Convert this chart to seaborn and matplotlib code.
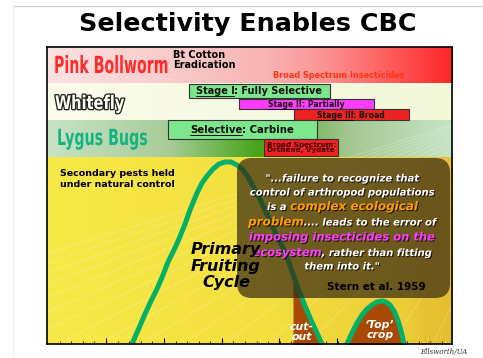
import numpy as np
import matplotlib
matplotlib.use("Agg")
import matplotlib.pyplot as plt
import matplotlib.patheffects as pe
from matplotlib.colors import LinearSegmentedColormap
from matplotlib.patches import FancyBboxPatch
from matplotlib.lines import Line2D
from matplotlib.text import Text
from matplotlib.transforms import Affine2D, Bbox
import seaborn as sns

sns.set_theme(style="white")
plt.rcParams['font.family'] = ['DejaVu Sans']

# ---------------- data (slide pixel units) ----------------
band_names = ["Pink Bollworm", "Whitefly", "Lygus Bugs"]
band_top = [47, 83, 120]
band_bottom = [83, 120, 157]

stage_labels = ["Stage I: Fully Selective", "Stage II: Partially", "Stage III: Broad",
                "Selective: Carbine", "Broad Spectrum:\nOrthene, Vydate"]
stage_start = [189, 239, 294, 168, 264]
stage_end = [330, 374, 409, 317, 338]
stage_top = [84, 99, 109, 120, 139]
stage_bottom = [98, 109, 120, 139, 156]
stage_colors = ["#7ee68c", "#ff3cff", "#ee2222", "#7ee68c", "#ee2222"]

# fruiting curve (green line)
curve_x = [118, 125, 132, 139, 145, 151, 157, 163, 168, 174, 179, 185, 190, 197, 202, 207,
           213, 219, 225, 231, 237, 243, 248, 253, 259, 265, 271, 277, 283, 287, 293, 299,
           305, 311, 317, 322, 328, 334, 340, 347, 352, 357, 362, 367, 372, 377, 382, 386,
           390, 394, 397, 400, 402, 404, 407]
curve_y = [368, 355, 344, 328, 314, 301, 289, 275, 262, 250, 239, 224, 210, 193, 183, 176,
           169, 164, 162, 162, 165, 170, 177, 186, 197, 210, 223, 236, 248, 257, 274, 291,
           306, 320, 333, 344, 358, 366, 358, 344, 333, 323, 315, 309, 305, 302, 301, 302,
           305, 311, 318, 327, 335, 344, 358]
cutout_range = (293, 328)
topcrop_range = (340, 407)

# ---------------- figure ----------------
W, H = 483, 358
X0, X1, Y0, Y1 = 47, 452, 47, 344
fig = plt.figure(figsize=(W / 100, H / 100), dpi=100)
fig.patch.set_facecolor("white")
ax = fig.add_axes([X0 / W, 1 - Y1 / H, (X1 - X0) / W, (Y1 - Y0) / H])


class Squeeze(pe.AbstractPathEffect):
    """draw text narrower (condensed look), optional outline"""
    def __init__(self, sx, stroke=None, lw=0):
        super().__init__()
        self.sx, self.stroke, self.lw = sx, stroke, lw

    def draw_path(self, renderer, gc, tpath, affine, rgbFace=None):
        aff = Affine2D().scale(self.sx, 1) + affine
        if self.stroke:
            gc0 = renderer.new_gc()
            gc0.copy_properties(gc)
            gc0.set_foreground(self.stroke)
            gc0.set_linewidth(self.lw)
            renderer.draw_path(gc0, tpath, aff, rgbFace)
            gc0.restore()
        renderer.draw_path(gc, tpath, aff, rgbFace)


class NarrowText(Text):
    # left-anchored text drawn condensed; extent reports the drawn width
    def __init__(self, x, y, s, sx=1.0, stroke=None, lw=0, **kw):
        super().__init__(x, y, s, ha="left", **kw)
        self._sx = sx
        self.set_path_effects([Squeeze(sx, stroke, lw)])

    def get_window_extent(self, renderer=None, dpi=None):
        bb = super().get_window_extent(renderer, dpi)
        return Bbox.from_extents(bb.x0, bb.y0, bb.x0 + bb.width * self._sx, bb.y1)


def narrow_text(x, y, s, **kw):
    t = NarrowText(x, y, s, **kw)
    ax._add_text(t)
    return t


def hgrad(stops, top, bottom, z=0):
    cmap = LinearSegmentedColormap.from_list("g", stops)
    grad = np.linspace(0, 1, 256)[None, :]
    ax.imshow(grad, cmap=cmap, aspect="auto", extent=(X0, X1, bottom, top),
              interpolation="bicubic", zorder=z)


hgrad([(0, "#fde2e2"), (0.3, "#f9cccc"), (0.55, "#f8b2b2"), (0.7, "#fc8e8e"), (1, "#ff2626")],
      band_top[0], band_bottom[0])
hgrad([(0, "#fbfcec"), (1, "#f2f8d8")], band_top[1], band_bottom[1])
hgrad([(0, "#c8e2c6"), (0.3, "#a8cc98"), (0.52, "#46a418"), (0.75, "#a6c894"), (1, "#c6e4c6")],
      band_top[2], band_bottom[2])
hgrad([(0, "#f7ea48"), (0.55, "#f3df40"), (0.9, "#eccc36"), (0.93, "#e8c232"), (1, "#e6bf30")],
      band_bottom[2], Y1)

# faint rays in yellow area
ox, oy = 560, 90
for tx in np.linspace(-250, 430, 17):
    ax.plot([ox, tx], [oy, Y1 + 5], color="white", lw=0.6, alpha=0.25, zorder=1)

# bars
for lab, s, e, t, b, c in zip(stage_labels, stage_start, stage_end, stage_top, stage_bottom, stage_colors):
    ax.barh((t + b) / 2, e - s, left=s, height=b - t, color=c, edgecolor="#333333",
            linewidth=0.8, zorder=3)

# brown fills under curve
cx = np.array(curve_x)
cy = np.array(curve_y)
for lo, hi in (cutout_range, topcrop_range):
    m = (cx >= lo) & (cx <= hi)
    ax.fill_between(cx[m], cy[m], Y1 + 20, color="#a84a06", lw=0, zorder=2)

sns.lineplot(x=curve_x, y=curve_y, ax=ax, color="#02b067", lw=3.6, zorder=4,
             solid_joinstyle="round", solid_capstyle="round")

# quote box
box = FancyBboxPatch((237, 158), 213, 140, boxstyle="round,pad=0,rounding_size=15",
                     facecolor=(54 / 255, 39 / 255, 17 / 255), alpha=0.7, lw=0, zorder=5)
ax.add_patch(box)

ax.set_xlim(X0, X1)
ax.set_ylim(Y1, Y0)
ax.set_yticks([])
ax.set_xticks(np.arange(105.7, X1, 57.9))
ax.set_xticks(np.arange(59.7, X1, 11.58), minor=True)
ax.tick_params(axis="x", which="major", direction="in", length=4, width=0.8, color="black",
               labelbottom=False, bottom=True)
ax.tick_params(axis="x", which="minor", direction="in", length=2, width=0.6, color="black",
               bottom=True)
for sp in ax.spines.values():
    sp.set_color("black")
    sp.set_linewidth(1.2)
    sp.set_zorder(10)

renderer = fig.canvas.get_renderer()
shadow = [pe.SimplePatchShadow(offset=(0.8, -0.8), shadow_rgbFace="black", alpha=0.7), pe.Normal()]


def seg_line(xc, y, segs, ha="center", z=8):
    items = []
    for s, kw in segs:
        kw = dict(kw)
        ul = kw.pop("underline", False)
        t = ax.text(0, y, s, ha="left", va="baseline", zorder=z, **kw)
        items.append((t, t.get_window_extent(renderer).width, ul))
    total = sum(w for _, w, _ in items)
    cur = xc - total / 2 if ha == "center" else xc
    for t, w, ul in items:
        t.set_x(cur)
        if ul:
            ax.plot([cur, cur + w], [y + 1.5, y + 1.5], color=t.get_color(), lw=0.7, zorder=z)
        cur += w


# band labels
narrow_text(54, 73, band_names[0], sx=0.6, weight="bold", fontsize=17, color="#ff2a2a",
            va="baseline", zorder=6)
narrow_text(55, 109, band_names[1], sx=0.78, stroke="#222222", lw=1.9, weight="bold",
            fontsize=13.5, color="#fffff2", va="baseline", zorder=6)
narrow_text(57, 145, band_names[2], sx=0.64, weight="bold", fontsize=16, color="#14b482",
            va="baseline", zorder=6)
ax.text(173, 60, "Bt Cotton\nEradication", weight="bold", fontsize=7, color="black",
        va="center", ha="left", linespacing=1.0, zorder=6)
ax.text(273, 75, "Broad Spectrum Insecticides", weight="bold", fontsize=5.9, color="#ff3410",
        va="center", ha="left", zorder=6)

# bar labels
dk = dict(weight="bold", color="#111111")
seg_line(259, 94.5, [("Stage I", dict(fontsize=7, underline=True, **dk)),
                     (": Fully Selective", dict(fontsize=7, **dk))])
seg_line(306, 107, [("Stage II", dict(fontsize=5.6, underline=True, **dk)),
                    (": Partially", dict(fontsize=5.6, **dk))])
seg_line(351, 118, [("Stage III", dict(fontsize=5.6, underline=True, **dk)),
                    (": Broad", dict(fontsize=5.6, **dk))])
seg_line(242, 133, [("Selective", dict(fontsize=7.3, underline=True, **dk)),
                    (": Carbine", dict(fontsize=7.3, **dk))])
ax.text(267, 147.5, stage_labels[4], fontsize=5.2, weight="bold", color="#3a0000",
        va="center", ha="left", linespacing=0.95, zorder=6)

ax.text(60, 179, "Secondary pests held\nunder natural control", weight="bold", fontsize=6.8,
        color="black", va="center", ha="left", linespacing=1.15, zorder=6)

ax.text(226, 266, "Primary\nFruiting\nCycle", weight="bold", style="italic", fontsize=11.5,
        color="black", ha="center", va="center", linespacing=1.15, zorder=9)

# quote
wq = dict(color="white", weight="bold", style="italic", fontsize=7.2, path_effects=shadow)
oq = dict(color="#ff9a00", weight="bold", style="italic", fontsize=8.6, path_effects=shadow)
mq = dict(color="#ff3cff", weight="bold", style="italic", fontsize=8.3, path_effects=shadow)
qx = 342
seg_line(qx, 181.5, [("\"...failure to recognize that", wq)])
seg_line(qx, 195.5, [("control of arthropod populations", wq)])
seg_line(qx, 210, [("is a ", wq), ("complex ecological", oq)])
seg_line(qx, 225.5, [("problem", oq), (".... leads to the error of", wq)])
seg_line(qx, 240.5, [("imposing insecticides on the", mq)])
seg_line(qx, 256, [("ecosystem", mq), (", rather than fitting", wq)])
seg_line(qx, 269.5, [("them into it.\"", wq)])
ax.text(376, 287, "Stern et al. 1959", weight="bold", fontsize=7.5, color="black",
        ha="center", va="center", zorder=8)

lab = dict(color="white", weight="bold", style="italic", fontsize=7.8, ha="center",
           va="center", linespacing=1.0, zorder=8)
ax.text(302, 332, "cut-\nout", **lab)
ax.text(380, 330, "\u2018Top\u2019\ncrop", **lab)

# slide decorations
fig.add_artist(Line2D([13 / W, 1], [1 - 6 / H] * 2, color="#c8c8c8", lw=0.8))
fig.add_artist(Line2D([13 / W, 13 / W], [0, 1 - 6 / H], color="#eeeeee", lw=0.8))
fig.text(248 / W, 1 - 24 / H, "Selectivity Enables CBC", weight="bold", fontsize=18.3,
         color="black", ha="center", va="center")
fig.text(467 / W, 1 - 352 / H, "Ellsworth/UA", family="DejaVu Serif", style="italic",
         fontsize=5, color="#333333", ha="right", va="center")

fig.savefig("out.png", dpi=100)
